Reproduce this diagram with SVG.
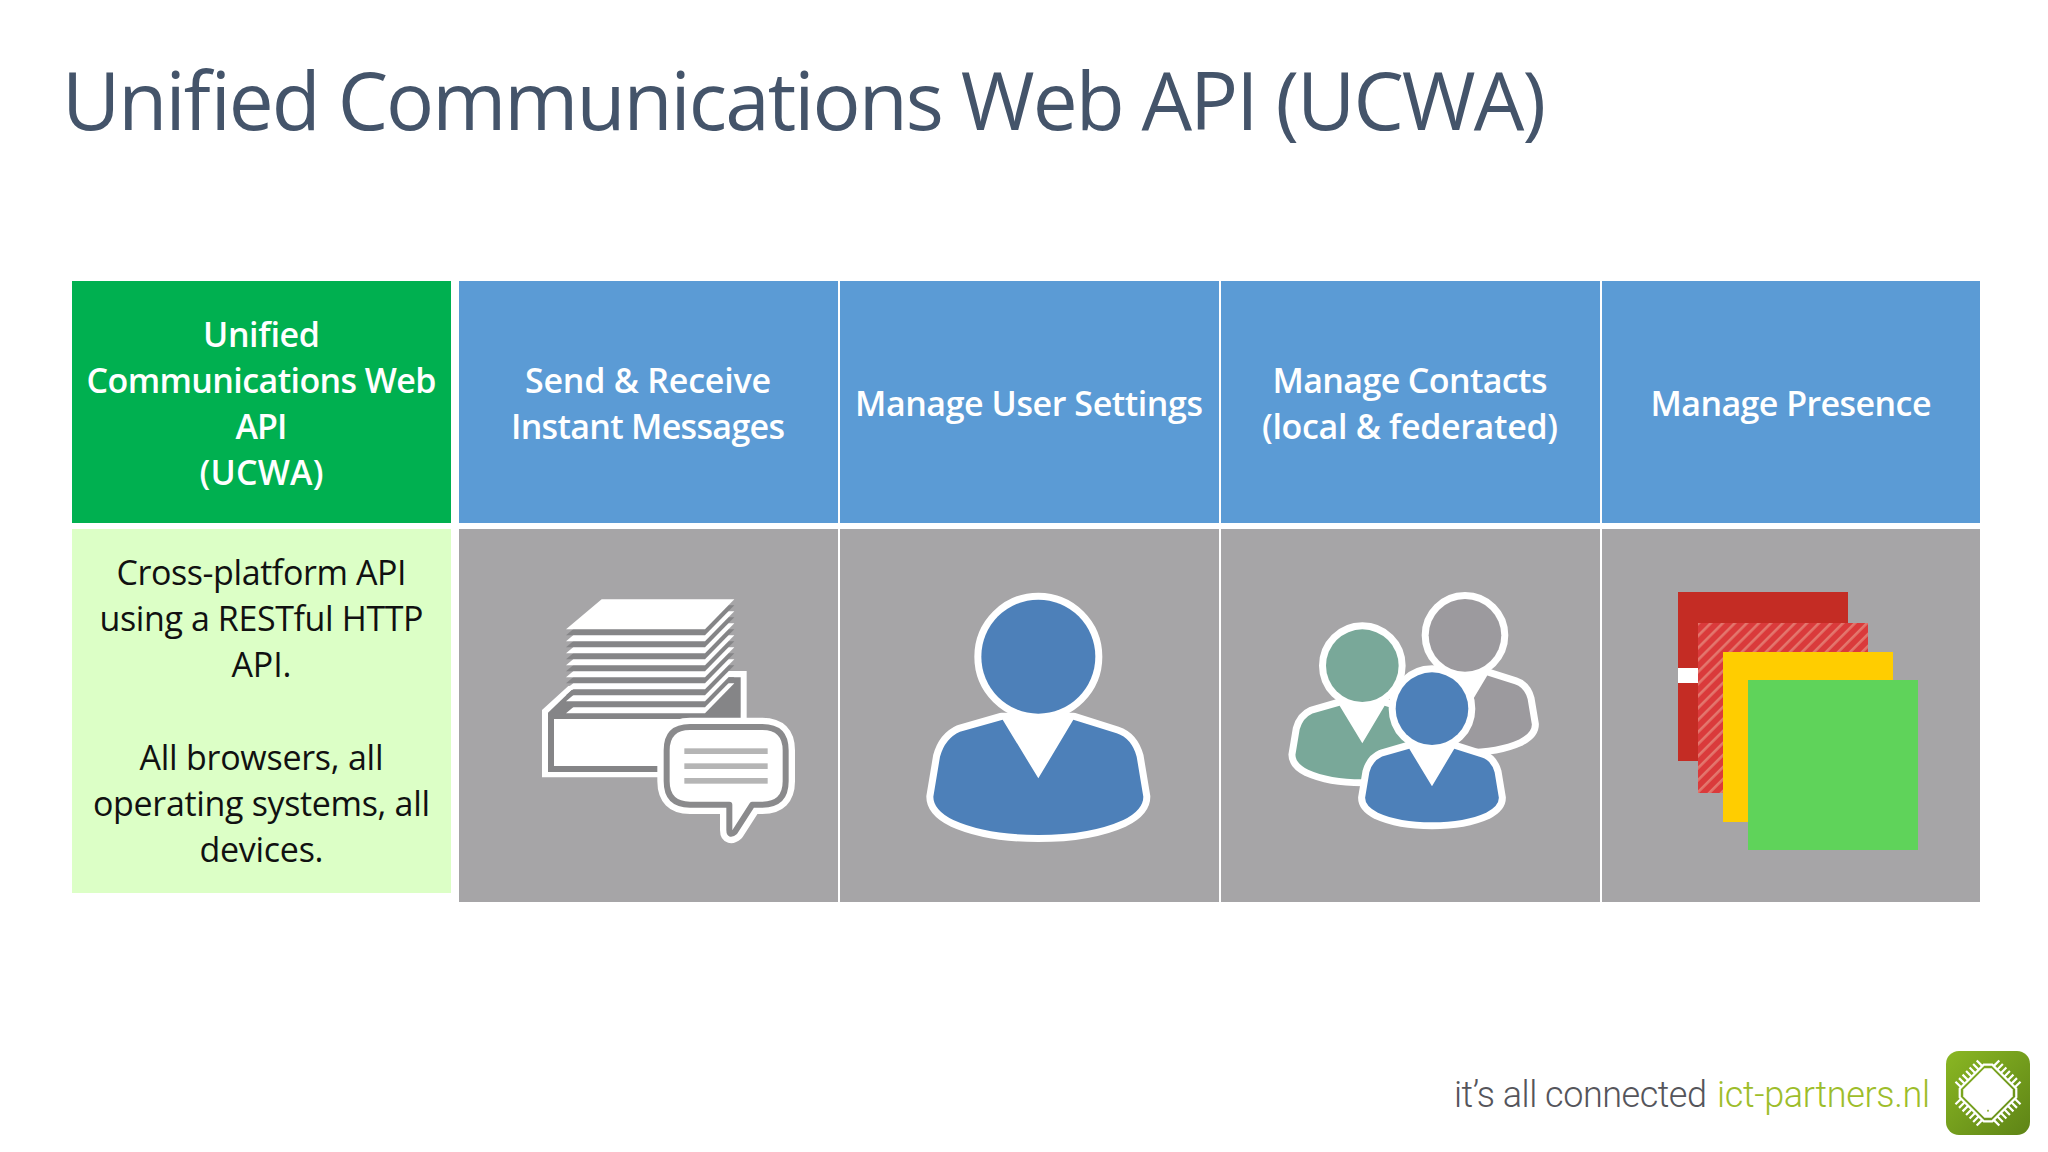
<svg xmlns="http://www.w3.org/2000/svg" xmlns:xlink="http://www.w3.org/1999/xlink" width="2048" height="1152" viewBox="0 0 2048 1152">
<style>
text{font-family:"Open Sans","Noto Sans","Liberation Sans",sans-serif}
.head{font-size:34px;font-weight:600;fill:#fff;text-anchor:middle}
.body{font-size:34px;font-weight:400;fill:#111;text-anchor:middle}
.title{font-size:80px;font-weight:400;fill:#44546a}
.tag{font-family:Roboto,"Open Sans",sans-serif;font-size:36px;font-weight:300}
.blue{fill:#5b9bd5}
.grey{fill:#a6a5a7}
.w{fill:#fff}
.d{fill:#8a8a8c}
.sheetd{fill:#858587}
.outline{fill:#fff;stroke:#fff;stroke-linejoin:round}
.ppl{stroke:none}
.hd{stroke:#fff;paint-order:stroke}
.ln{fill:#b5b5b5}
.pin{fill:none;stroke:#fff;stroke-width:2.2}
</style>
<defs>
<pattern id="hatch" width="8.5" height="8.5" patternUnits="userSpaceOnUse" patternTransform="rotate(45)">
<rect width="8.5" height="8.5" fill="#da3a3b"/><rect x="0" width="2.6" height="8.5" fill="#e3766d"/>
</pattern>
<linearGradient id="logoG" x1="0" y1="0" x2="1" y2="1"><stop offset="0" stop-color="#8ab723"/><stop offset="1" stop-color="#5e8416"/></linearGradient>
<g id="person">
<path class="outline" d="M335,449 L550,449 L680,490 Q725,505 740,560 L760,680 Q760,720 700,750 Q600,795 445,795 Q290,795 190,750 Q130,720 130,680 L150,560 Q165,505 210,485 Z"/>
<path class="ppl" fill="currentColor" d="M338,449 L445,625 L550,449 L680,490 Q725,505 740,560 L760,680 Q760,720 700,750 Q600,795 445,795 Q290,795 190,750 Q130,720 130,680 L150,560 Q165,505 210,485 Z"/>
<circle class="hd" cx="445" cy="260" r="171" fill="currentColor"/>
</g>
<g id="sheet">
<polygon class="sheetd" points="305,136 703,136 615,226 198,226"/>
<polygon class="w" points="305,118 703,118 615,208 198,208"/>
</g>
<path id="pins" class="pin" d="M23,-15H31M23,-10H31M23,-5H31M23,0H31M23,5H31M23,10H31M23,15H31"/>
</defs>
<rect width="2048" height="1152" fill="#fff"/>
<text id="title" class="title" x="62" y="130" textLength="1484" lengthAdjust="spacing">Unified Communications Web API (UCWA)</text>

<g id="ucwa-header"><rect x="72" y="281" width="379" height="242" fill="#00b050"/>
<text class="head" x="261.5" y="346.5" textLength="117">Unified</text>
<text class="head" x="261.5" y="392.5" textLength="350">Communications Web</text>
<text class="head" x="261.5" y="439" textLength="52">API</text>
<text class="head" x="261.5" y="485" textLength="124">(UCWA)</text></g>
<g id="ucwa-body"><rect x="72" y="529" width="379" height="364" fill="#dcffc6"/>
<text class="body" x="261.5" y="585" textLength="290">Cross-platform API</text>
<text class="body" x="261.5" y="631" textLength="324">using a RESTful HTTP</text>
<text class="body" x="261.5" y="677" textLength="60">API.</text>
<text class="body" x="261.5" y="770" textLength="244">All browsers, all</text>
<text class="body" x="261.5" y="816" textLength="337">operating systems, all</text>
<text class="body" x="261.5" y="862" textLength="124">devices.</text></g>

<g id="col-messages">
<rect class="blue" x="459" y="281" width="379" height="242"/>
<text class="head" x="648" y="392.5" textLength="246">Send &amp; Receive</text>
<text class="head" x="648" y="439" textLength="274">Instant Messages</text>
<rect class="grey" x="459" y="529" width="379" height="373"/>
<g transform="translate(500,560) scale(.33333)">
<polygon class="w" points="126,450 205,378 640,333 740,333 740,490 500,500 500,652 126,652"/>
<polygon class="sheetd" points="144,458 215,390 650,352 722,352 722,480 144,480"/>
<use xlink:href="#sheet" href="#sheet" y="252"/>
<use xlink:href="#sheet" href="#sheet" y="216"/>
<use xlink:href="#sheet" href="#sheet" y="180"/>
<use xlink:href="#sheet" href="#sheet" y="144"/>
<use xlink:href="#sheet" href="#sheet" y="108"/>
<use xlink:href="#sheet" href="#sheet" y="72"/>
<use xlink:href="#sheet" href="#sheet" y="36"/>
<use xlink:href="#sheet" href="#sheet" y="0"/>
<rect class="sheetd" x="144" y="475" width="578" height="161"/>
<rect class="w" x="162" y="477" width="560" height="141"/>
<path d="M570,501 H787 Q857,501 857,571 V664 Q857,734 787,734 H757 L705,815 Q688,830 688,810 V734 H570 Q500,734 500,664 V571 Q500,501 570,501Z" fill="#fff" stroke="#fff" stroke-width="56" stroke-linejoin="round"/>
<path d="M570,501 H787 Q857,501 857,571 V664 Q857,734 787,734 H757 L705,815 Q688,830 688,810 V734 H570 Q500,734 500,664 V571 Q500,501 570,501Z" fill="#fff" stroke="#8a8a8c" stroke-width="18" stroke-linejoin="round"/>
<rect class="ln" x="553" y="565" width="250" height="17"/>
<rect class="ln" x="553" y="610" width="250" height="17"/>
<rect class="ln" x="553" y="654" width="250" height="17"/>
</g></g>

<g id="col-settings">
<rect class="blue" x="840" y="281" width="379" height="242"/>
<text class="head" x="1029" y="416" textLength="348">Manage User Settings</text>
<rect class="grey" x="840" y="529" width="379" height="373"/>
<use xlink:href="#person" href="#person" transform="translate(890,570) scale(.33333)" color="#4d80b9" stroke-width="42"/>
</g>

<g id="col-contacts">
<rect class="blue" x="1221" y="281" width="379" height="242"/>
<text class="head" x="1410" y="392.5" textLength="275">Manage Contacts</text>
<text class="head" x="1410" y="439" textLength="296">(local &amp; federated)</text>
<rect class="grey" x="1221" y="529" width="379" height="373"/>
<g transform="translate(1260,570) scale(.33333)">
<use xlink:href="#person" href="#person" transform="translate(331.5,30.4) scale(.637)" color="#9c9a9e" stroke-width="66"/>
<use xlink:href="#person" href="#person" transform="translate(23.5,121.4) scale(.637)" color="#79a899" stroke-width="66"/>
<use xlink:href="#person" href="#person" transform="translate(232.5,250.4) scale(.637)" color="#4d80b9" stroke-width="66"/>
</g></g>

<g id="col-presence">
<rect class="blue" x="1602" y="281" width="378" height="242"/>
<text class="head" x="1791" y="416" textLength="281">Manage Presence</text>
<rect class="grey" x="1602" y="529" width="378" height="373"/>
<rect x="1678" y="592" width="170" height="169" fill="#c42c24"/>
<rect x="1678" y="668" width="21" height="15" fill="#fff"/>
<rect x="1698" y="623" width="170" height="170" fill="url(#hatch)"/>
<rect x="1723" y="652" width="170" height="170" fill="#ffcd00"/>
<rect x="1748" y="680" width="170" height="170" fill="#5fd35a"/>
</g>

<g id="logo">
<text class="tag" x="1454" y="1107" textLength="253" fill="#55555b">it’s all connected</text>
<text class="tag" x="1717" y="1107" textLength="213" fill="#9dbd2a">ict-partners.nl</text>
<rect x="1946" y="1051" width="84" height="84" rx="13" fill="url(#logoG)"/>
<g transform="translate(1988,1093) rotate(45)">
<use xlink:href="#pins" href="#pins"/>
<use xlink:href="#pins" href="#pins" transform="rotate(90)"/>
<use xlink:href="#pins" href="#pins" transform="rotate(180)"/>
<use xlink:href="#pins" href="#pins" transform="rotate(270)"/>
<polygon points="23,17 17,23 -17,23 -23,17 -23,-17 -17,-23 17,-23 23,-17" fill="none" stroke="#fff" stroke-width="2.2"/>
<polygon points="20,15 15,20 -15,20 -20,15 -20,-15 -15,-20 15,-20 20,-15" fill="#fff"/>
<circle cx="12.5" cy="12.5" r="1" fill="#8fae3a"/>
</g></g>
</svg>
